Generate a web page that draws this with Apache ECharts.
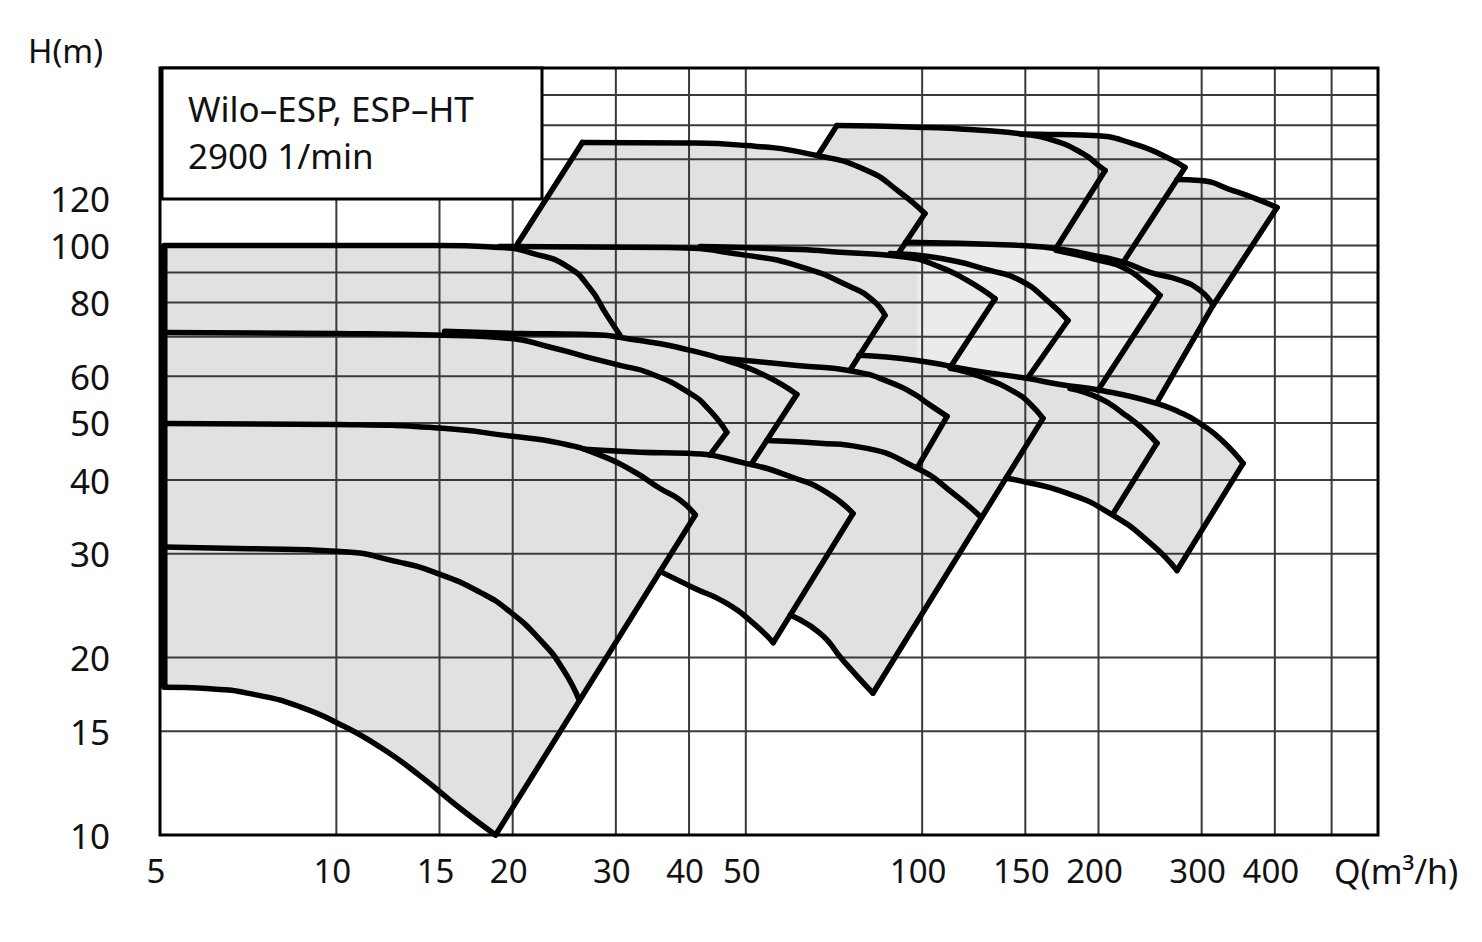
<!DOCTYPE html>
<html>
<head>
<meta charset="utf-8">
<script src="https://cdn.jsdelivr.net/npm/echarts@6/dist/echarts.min.js"></script>
<style>
html,body{margin:0;padding:0;background:#ffffff;}
#chart{width:1482px;height:942px;}
</style>
</head>
<body>
<div id="chart"></div>
<script>
// ---------- axis values ----------
const X_MIN = 5, X_MAX = 600, Y_MIN = 10, Y_MAX = 200;
const xGrid = [10, 15, 20, 30, 40, 50, 100, 150, 200, 300, 400, 500];
const yGrid = [15, 20, 30, 40, 50, 60, 70, 80, 90, 100, 120, 140, 160, 180];
const xTickLabels = [5, 10, 15, 20, 30, 40, 50, 100, 150, 200, 300, 400];
const yTickLabels = [10, 15, 20, 30, 40, 50, 60, 80, 100, 120];

// ---------- pump field curves  [Q (m3/h), H (m)] ----------
// left cluster
const edgeLeft = [[5.08,100],[5.08,17.8]];
const e1Bottom = [[5.08,17.8],[6.1,17.7],[7.26,17.3],[8.67,16.5],[10.15,15.4],[11.87,14.1],[13.9,12.6],[16.26,11.1],[18.7,10]];
const e2Top = [[5.08,30.8],[7.1,30.6],[10,30.3],[12.85,29.0],[15,27.7],[17.6,25.8],[19.8,23.9],[22.3,21.4],[24.3,19.2],[26,16.9]];
const e3Top = [[5.08,49.9],[10,49.7],[15,49.0],[19.8,47.5],[24.1,46.2],[28.2,44.1],[32.4,41.2],[35.7,38.7],[38.6,37.0],[41,34.9]];
const e4Top = [[5.08,71.2],[10,70.9],[15.3,70.4],[19.6,69.6],[23.2,67.2],[26.6,64.8],[30.5,62.6],[34.3,60.7],[40.2,56.1],[43.4,52.5],[46.4,48.2]];
const e5Top = [[5.08,100],[10,100],[15,100],[19,99.2],[21.7,96.9],[24.8,92.1],[27.1,84.6],[28.9,76.4],[30.5,70.4]];
const edgeR1 = [[18.7,10],[41,34.9]];
const edgeR3 = [[46.4,48.2],[43.4,44.1]];
// top row
const u1Edge = [[20.4,100.8],[26.3,149.5]];
const u1Top = [[26.3,149.5],[39.7,149.2],[50.2,147.7],[66.1,142.1],[80.5,134.0],[91.7,123.0],[101.1,113.3]];
const u1Right = [[101.1,113.3],[90.6,96.2]];
const u2Left = [[66.4,142.2],[71.5,159.7]];
const u2Top = [[71.5,159.7],[97.9,158.7],[122.3,157.1],[147.3,154.6],[167.5,150.7],[188.5,143.0],[199.9,136.7],[205.3,134.0]];
const u2Right = [[205.3,134.0],[169.2,98.8]];
const u3Top = [[147.3,154.6],[172,154.2],[195.8,153.6],[229,148.9],[262,141.0],[281,135.6]];
const u3Right = [[281,135.6],[220.3,93.6]];
const u4Top = [[272.3,129.4],[298.1,128.9],[339.4,123.9],[370,120.2],[403.5,116.0]];
const u4Right = [[403.5,116.0],[313.7,79.1],[251.7,54.2]];
// row around 60-100 m
const b1Top = [[19,99.6],[36.7,99.2],[50.2,96.2],[61.9,92.1],[75.3,85.2],[82.4,80.7],[86.4,76.1]];
const b1Right = [[86.4,76.1],[75.3,61.4]];
const b2Top = [[41.8,99.6],[61.9,98.4],[72.4,97.4],[94.1,95.5],[107.3,91.9],[119.2,87.3],[133.2,81.2]];
const b2Right = [[133.2,81.2],[111.6,62.1]];
const b3Top = [[88.2,96.9],[107.3,95.1],[130.6,90.7],[146.9,87.3],[163.4,80.7],[177.4,74.6]];
const b3Right = [[177.4,74.6],[151.6,59.7]];
const b4Top = [[169.2,98.1],[201.3,94.3],[222,91.4],[240.1,86.6],[254.7,82.3]];
const b4Right = [[254.7,82.3],[199.6,56.8]];
const b5Top = [[93.8,101.3],[147.9,100],[169.6,98.7],[195.8,96.2],[220.3,93.7],[244.9,90.0],[275.6,87.3],[298.1,83.9],[313.7,79.1]];
// row around 40-70 m
const c1Top = [[15.3,71.5],[20.6,70.9],[26.1,70.7],[33,69.0],[40.2,66.4],[46.4,63.8],[53.5,60.4],[61.1,55.9]];
const c1Right = [[61.1,55.9],[51.2,42.7]];
const c2Top = [[45.5,64.4],[61.1,62.6],[76.2,61.2],[88.2,58.6],[96.5,56.1],[103.2,53.6],[110.3,51.3]];
const c2Right = [[110.3,51.3],[98,41.9]];
const c3Top = [[111.6,61.9],[127,59.7],[145.2,56.1],[152.8,53.9],[160.8,50.9]];
const c4Top = [[178.8,57.2],[201.3,55.0],[220.3,51.9],[237.3,49.0],[251.7,46.2]];
const c4Right = [[251.7,46.2],[211.9,35.1]];
const c5Top = [[78,65.1],[98,63.8],[122.1,61.4],[151,59.5],[172,58.1],[201.3,56.8],[247.8,54.2],[275.6,52.1],[298.1,49.9],[325,46.7],[353.1,42.7]];
const c5Right = [[353.1,42.7],[272.3,28.1]];
const c5Bottom = [[139,40.3],[145.2,40.0],[176.7,38.0],[209.4,35.1],[244.9,31.3],[272.3,28.1]];
// row around 20-45 m
const d1Top = [[26.5,45.1],[33,44.6],[39.7,44.4],[50,42.7],[60.2,40.4],[68.8,38.1],[76.2,35.1]];
const d1Right = [[76.2,35.1],[55.7,21.2]];
const d1Bottom = [[35.7,28.0],[40.6,26.3],[46.4,24.7],[51.4,22.9],[55.7,21.2]];
const d2Top = [[54.3,46.7],[66.9,46.2],[78.3,45.5],[98,41.9],[112.9,38.0],[126,34.6]];
const d2Right = [[82.4,17.4],[160.8,50.9]];
const d2Bottom = [[59.5,23.6],[66.9,22.0],[73.2,19.8],[82.4,17.4]];

// ---------- helpers ----------
function inQ(c, lo, hi) { return c.filter(p => p[0] >= lo && p[0] <= hi); }
function rev(c) { return c.slice().reverse(); }

// outer boundary of the grey field, built from the curves above
const outline = [].concat(
  [[5,17.8]],
  e1Bottom,
  d1Bottom, d2Bottom, c5Bottom,
  rev(inQ(c5Top, 252, Infinity)),
  rev(u4Right),
  rev(u4Top),
  [u3Right[0]],
  rev(u3Top),
  rev(inQ(u2Top, 0, 147)),
  [u2Left[0]],
  rev(inQ(u1Top, 0, 66.3)),
  [u1Edge[0]],
  [[5,100]]
);

// lighter shaded field (between the 100 m line, the b4 limit and the c5 curve)
const lightField = [].concat(
  [[98, 101.2]],
  inQ(b5Top, 98, 169),
  b4Top,
  [b4Right[1]],
  rev(inQ(c5Top, 98, 199)),
  [[98, 63.8]]
);

// curved characteristics (smoothed) and straight limit edges
const smoothCurves = {
  e1Bottom, e2Top, e3Top, e4Top, e5Top,
  u1Top, u2Top, u3Top, u4Top,
  b1Top, b2Top, b3Top, b4Top, b5Top,
  c1Top, c2Top, c3Top, c4Top, c5Top, c5Bottom,
  d1Top, d1Bottom, d2Top, d2Bottom
};
const straightEdges = {
  edgeR1, edgeR3, u1Edge, u1Right, u2Left, u2Right, u3Right, u4Right,
  b1Right, b2Right, b3Right, b4Right,
  c1Right, c2Right, c4Right, c5Right,
  d1Right, d2Right
};

const FONT = '"Noto Sans", "Open Sans", sans-serif';

function lineSeries(name, data, smooth, width) {
  return {
    type: 'line',
    name: name,
    data: data,
    showSymbol: false,
    symbol: 'none',
    smooth: smooth,
    clip: false,
    silent: true,
    z: 4,
    lineStyle: { color: '#000000', width: width, cap: 'round', join: 'round' }
  };
}

const curveSeries = []
  .concat(Object.keys(smoothCurves).map(n => lineSeries(n, smoothCurves[n], 0.55, 5.5)))
  .concat(Object.keys(straightEdges).map(n => lineSeries(n, straightEdges[n], false, 5.5)));

function polygonSeries(name, pts, color, z) {
  return {
    type: 'custom', name: name, z: z, silent: true, clip: false,
    data: [[X_MIN, Y_MIN]],
    renderItem: function (params, api) {
      return { type: 'polygon', shape: { points: pts.map(p => api.coord(p)) }, style: { fill: color } };
    }
  };
}

const series = [
  polygonSeries('field', outline, '#e1e1e1', 1),
  polygonSeries('fieldLight', lightField, '#ebebeb', 1.5),
  {
    type: 'custom', name: 'xgrid', z: 2, silent: true, clip: false,
    data: xGrid.map(v => [v, Y_MIN]),
    renderItem: function (params, api) {
      const v = api.value(0);
      const a = api.coord([v, Y_MIN]), b = api.coord([v, Y_MAX]);
      return { type: 'line', shape: { x1: a[0], y1: a[1], x2: b[0], y2: b[1] },
               style: { stroke: '#3a3a3a', lineWidth: 2 } };
    }
  },
  {
    type: 'custom', name: 'ygrid', z: 2, silent: true, clip: false,
    data: yGrid.map(v => [X_MIN, v]),
    renderItem: function (params, api) {
      const v = api.value(1);
      const a = api.coord([X_MIN, v]), b = api.coord([X_MAX, v]);
      return { type: 'line', shape: { x1: a[0], y1: a[1], x2: b[0], y2: b[1] },
               style: { stroke: '#3a3a3a', lineWidth: 2 } };
    }
  },
  {
    type: 'line', name: 'edgeLeft', data: edgeLeft, showSymbol: false, symbol: 'none',
    clip: false, silent: true, z: 4,
    lineStyle: { color: '#000000', width: 7, cap: 'butt' }
  }
].concat(curveSeries).concat([
  {
    type: 'custom', name: 'xlabels', z: 6, silent: true, clip: false,
    data: xTickLabels.map(v => [v, Y_MIN]),
    renderItem: function (params, api) {
      const v = api.value(0);
      const p = api.coord([v, Y_MIN]);
      return { type: 'text', x: p[0] - 4, y: p[1] + 35,
               style: { text: String(v), fill: '#111111', font: '33px ' + FONT, align: 'center', verticalAlign: 'middle' } };
    }
  },
  {
    type: 'custom', name: 'ylabels', z: 6, silent: true, clip: false,
    data: yTickLabels.map(v => [X_MIN, v]),
    renderItem: function (params, api) {
      const v = api.value(1);
      const p = api.coord([X_MIN, v]);
      return { type: 'text', x: p[0] - 50, y: p[1],
               style: { text: String(v), fill: '#111111', font: '35px ' + FONT, align: 'right', verticalAlign: 'middle' } };
    }
  }
]);

const chart = echarts.init(document.getElementById('chart'), null, { renderer: 'svg', width: 1482, height: 942 });
chart.setOption({
  animation: false,
  backgroundColor: '#ffffff',
  grid: { left: 160, right: 104, top: 68, bottom: 107, show: true, borderColor: '#000000', borderWidth: 3, backgroundColor: 'transparent', z: 5 },
  xAxis: {
    type: 'log', logBase: 10, min: X_MIN, max: X_MAX,
    axisLine: { show: false }, axisTick: { show: false }, axisLabel: { show: false }, splitLine: { show: false }
  },
  yAxis: {
    type: 'log', logBase: 10, min: Y_MIN, max: Y_MAX,
    axisLine: { show: false }, axisTick: { show: false }, axisLabel: { show: false }, splitLine: { show: false }
  },
  graphic: [
    { type: 'rect', z: 20, shape: { x: 162, y: 68, width: 380, height: 131 },
      style: { fill: '#ffffff', stroke: '#000000', lineWidth: 3 } },
    { type: 'text', z: 21, x: 188, y: 108,
      style: { text: 'Wilo–ESP, ESP–HT', fill: '#111111', font: '35px ' + FONT, align: 'left', verticalAlign: 'middle' } },
    { type: 'text', z: 21, x: 188, y: 155,
      style: { text: '2900 1/min', fill: '#111111', font: '35px ' + FONT, align: 'left', verticalAlign: 'middle' } },
    { type: 'text', z: 21, x: 28, y: 50,
      style: { text: 'H(m)', fill: '#111111', font: '33px ' + FONT, align: 'left', verticalAlign: 'middle' } },
    { type: 'text', z: 21, x: 1334, y: 871,
      style: { text: 'Q(m³/h)', fill: '#111111', font: '34px ' + FONT, align: 'left', verticalAlign: 'middle' } }
  ],
  series: series
});
</script>
</body>
</html>
